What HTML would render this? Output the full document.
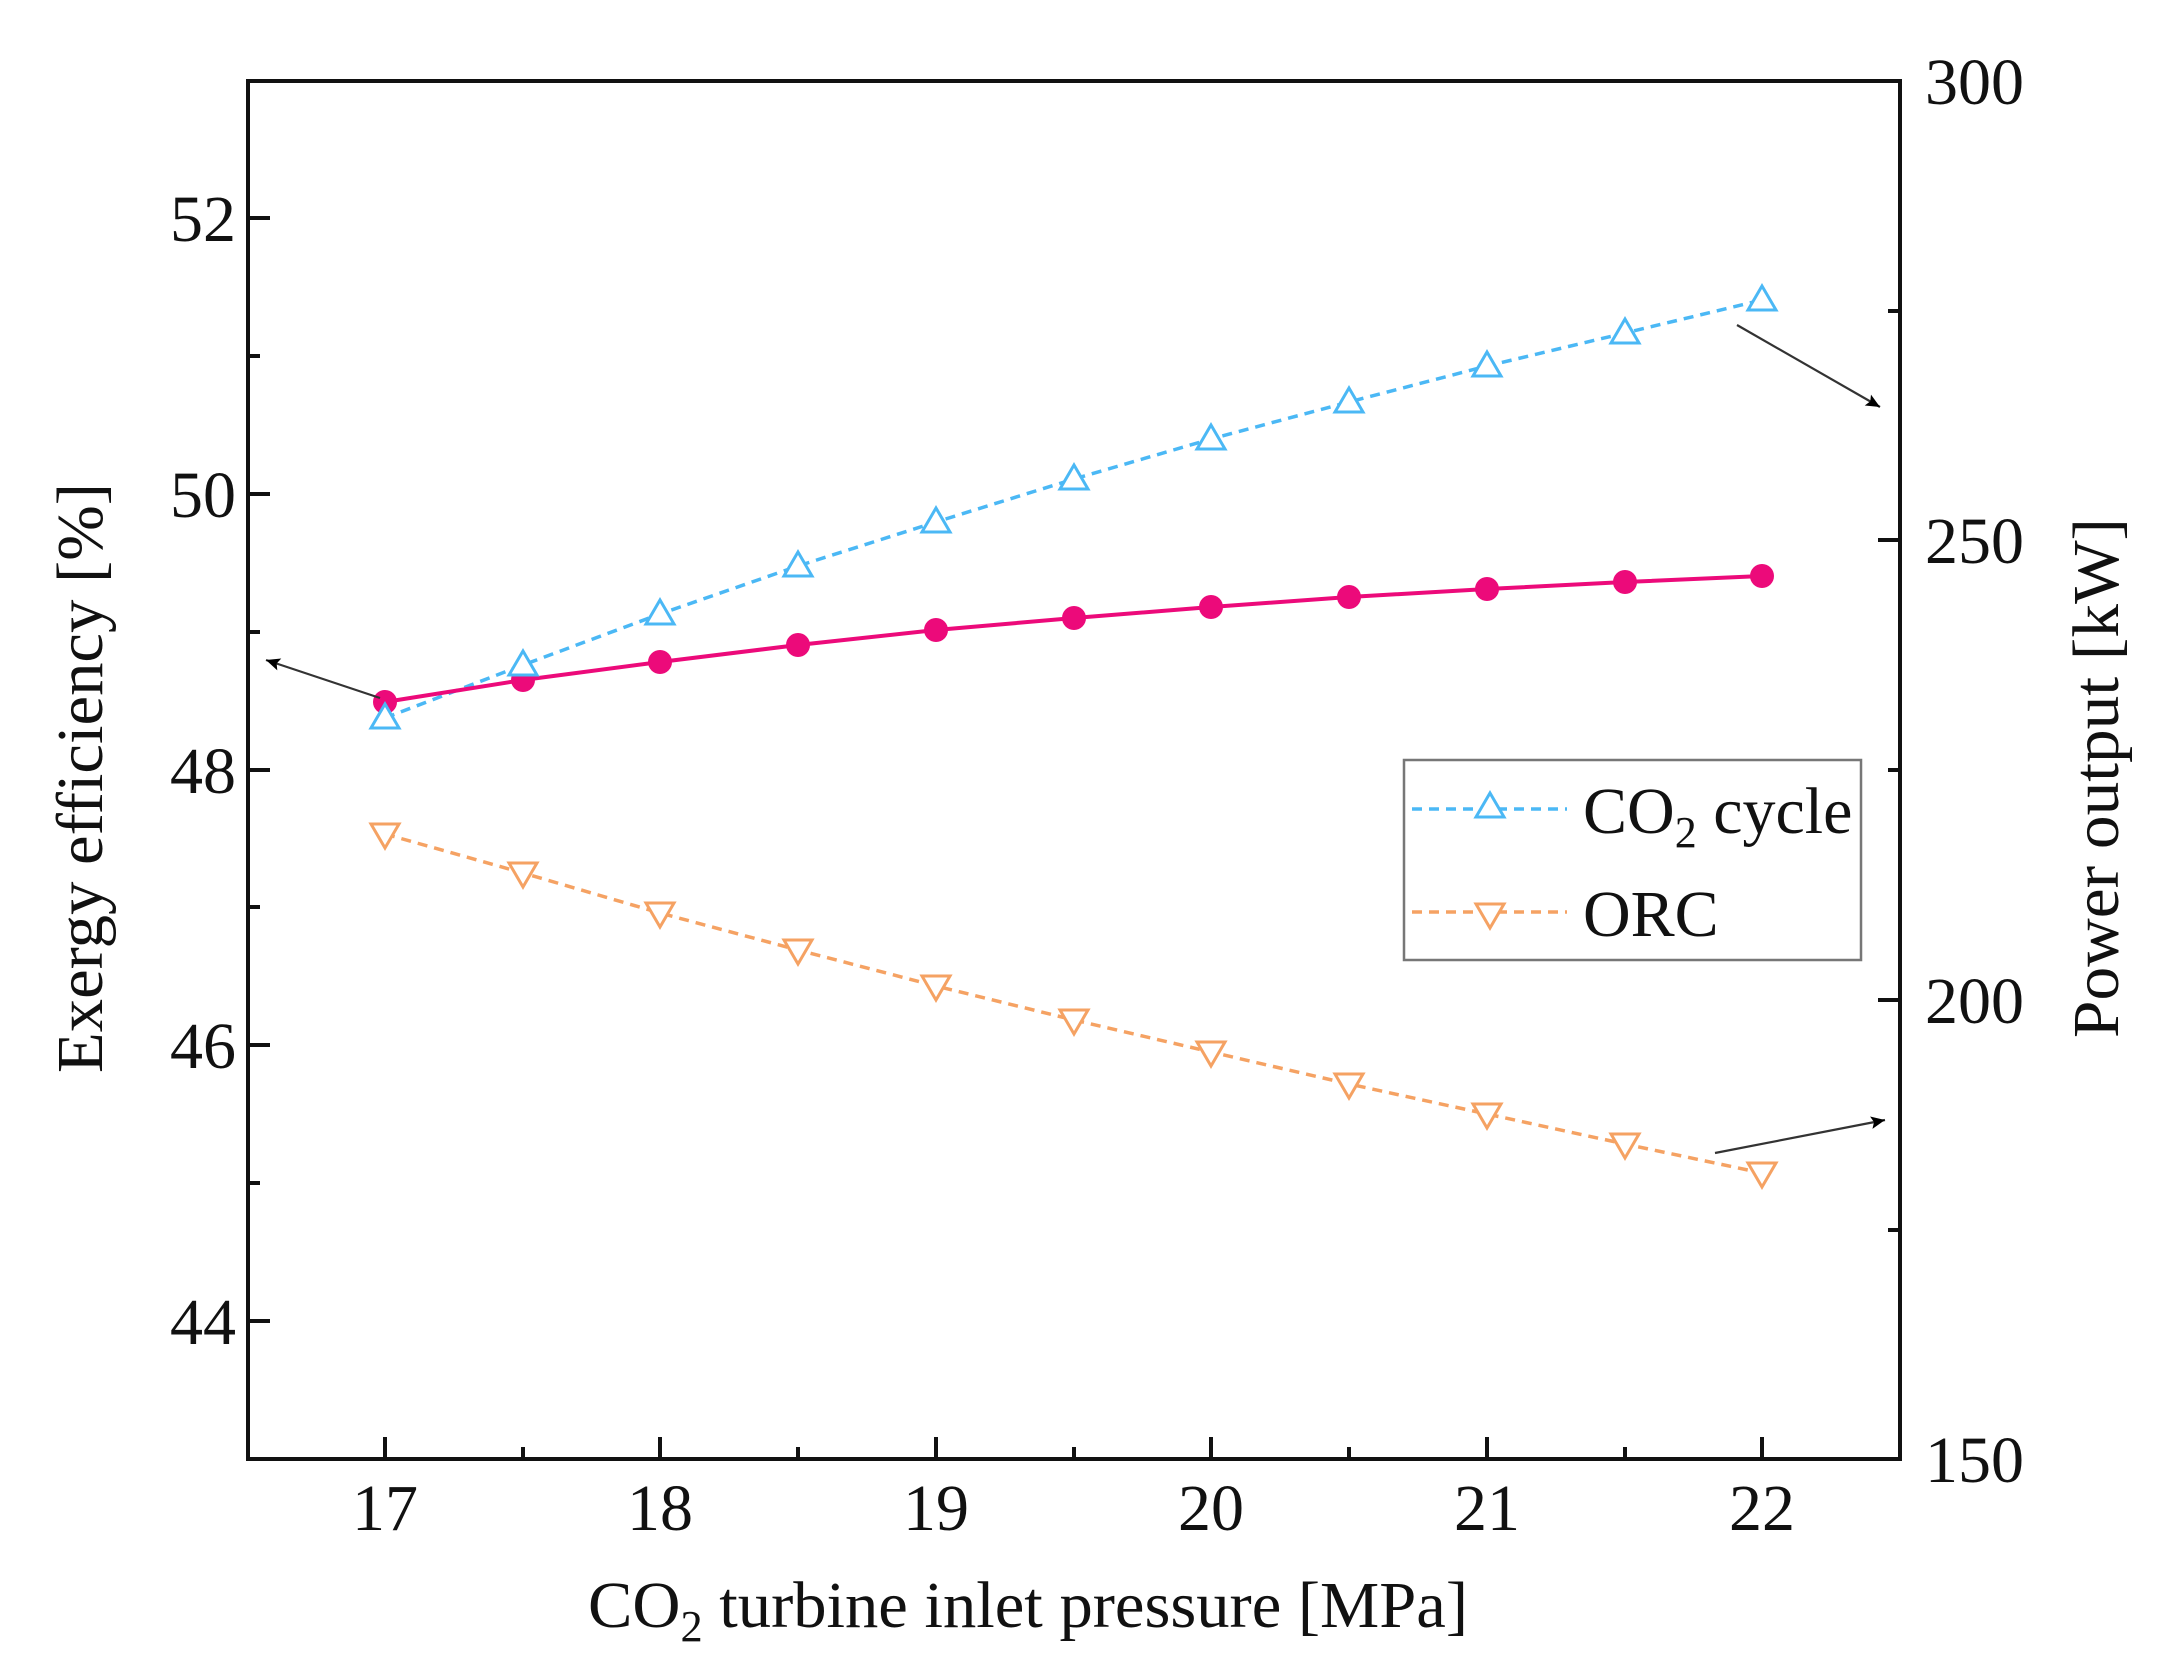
<!DOCTYPE html>
<html><head><meta charset="utf-8"><style>html,body{margin:0;padding:0;background:#fff}svg{display:block}</style></head><body>
<svg width="2177" height="1673" viewBox="0 0 2177 1673" xmlns="http://www.w3.org/2000/svg" font-family="Liberation Serif, serif">
<defs>
<marker id="ah" viewBox="0 0 10 10" refX="10" refY="5" markerWidth="30" markerHeight="14" markerUnits="userSpaceOnUse" orient="auto"><path d="M0,0.5 L10,5 L0,9.5 L2,5 z" fill="#000"/></marker>
<g id="tu"><path d="M0,-14 L14,10 L-14,10 Z" fill="#fff" stroke="#4bb8f5" stroke-width="3"/></g>
<g id="td"><path d="M0,14 L14,-10 L-14,-10 Z" fill="#fff" stroke="#f5a263" stroke-width="3"/></g>
</defs>
<rect x="248" y="81" width="1652" height="1378" fill="none" stroke="#111" stroke-width="4"/>
<g stroke="#111" stroke-width="4">
<line x1="385" y1="1459" x2="385" y2="1437"/><line x1="523" y1="1459" x2="523" y2="1447"/>
<line x1="660" y1="1459" x2="660" y2="1437"/><line x1="798" y1="1459" x2="798" y2="1447"/>
<line x1="936" y1="1459" x2="936" y2="1437"/><line x1="1074" y1="1459" x2="1074" y2="1447"/>
<line x1="1211" y1="1459" x2="1211" y2="1437"/><line x1="1349" y1="1459" x2="1349" y2="1447"/>
<line x1="1487" y1="1459" x2="1487" y2="1437"/><line x1="1625" y1="1459" x2="1625" y2="1447"/>
<line x1="1762" y1="1459" x2="1762" y2="1437"/>
<line x1="248" y1="218" x2="270" y2="218"/><line x1="248" y1="356" x2="260" y2="356"/>
<line x1="248" y1="494" x2="270" y2="494"/><line x1="248" y1="632" x2="260" y2="632"/>
<line x1="248" y1="770" x2="270" y2="770"/><line x1="248" y1="907" x2="260" y2="907"/>
<line x1="248" y1="1045" x2="270" y2="1045"/><line x1="248" y1="1183" x2="260" y2="1183"/>
<line x1="248" y1="1321" x2="270" y2="1321"/>
<line x1="1900" y1="311" x2="1888" y2="311"/><line x1="1900" y1="540" x2="1878" y2="540"/>
<line x1="1900" y1="770" x2="1888" y2="770"/><line x1="1900" y1="1000" x2="1878" y2="1000"/>
<line x1="1900" y1="1230" x2="1888" y2="1230"/>
</g>
<g font-size="66" fill="#111">
<g text-anchor="middle">
<text x="385" y="1530">17</text><text x="660" y="1530">18</text><text x="936" y="1530">19</text>
<text x="1211" y="1530">20</text><text x="1487" y="1530">21</text><text x="1762" y="1530">22</text>
</g>
<g text-anchor="end">
<text x="236" y="241">52</text><text x="236" y="517">50</text><text x="236" y="793">48</text>
<text x="236" y="1068">46</text><text x="236" y="1344">44</text>
</g>
<g text-anchor="start">
<text x="1925" y="104">300</text><text x="1925" y="563">250</text>
<text x="1925" y="1023">200</text><text x="1925" y="1482">150</text>
</g>
<text x="588" y="1627" textLength="880" lengthAdjust="spacingAndGlyphs">CO<tspan font-size="44" dy="14">2</tspan><tspan dy="-14"> turbine inlet pressure [MPa]</tspan></text>
<text transform="translate(102,778) rotate(-90)" text-anchor="middle" textLength="590" lengthAdjust="spacingAndGlyphs">Exergy efficiency [%]</text>
<text transform="translate(2118,778) rotate(-90)" text-anchor="middle" textLength="520" lengthAdjust="spacingAndGlyphs">Power output [kW]</text>
</g>
<polyline fill="none" stroke="#4bb8f5" stroke-width="3.5" stroke-dasharray="10,7" points="385,718 523,665 660,614 798,566 936,522 1074,479 1211,439 1349,402 1487,366 1625,333 1762,300"/>
<polyline fill="none" stroke="#f5a263" stroke-width="3.5" stroke-dasharray="10,7" points="385,834 523,873 660,913 798,950 936,986 1074,1020 1211,1052 1349,1084 1487,1114 1625,1144 1762,1173"/>
<polyline fill="none" stroke="#ec0a7a" stroke-width="4" points="385,702 523,680 660,662 798,645 936,630 1074,618 1211,607 1349,597 1487,589 1625,582 1762,576"/>
<g fill="#ec0a7a">
<circle cx="385" cy="702" r="12"/><circle cx="523" cy="680" r="12"/><circle cx="660" cy="662" r="12"/>
<circle cx="798" cy="645" r="12"/><circle cx="936" cy="630" r="12"/><circle cx="1074" cy="618" r="12"/>
<circle cx="1211" cy="607" r="12"/><circle cx="1349" cy="597" r="12"/><circle cx="1487" cy="589" r="12"/>
<circle cx="1625" cy="582" r="12"/><circle cx="1762" cy="576" r="12"/>
</g>
<use href="#tu" x="385" y="718"/><use href="#tu" x="523" y="665"/><use href="#tu" x="660" y="614"/>
<use href="#tu" x="798" y="566"/><use href="#tu" x="936" y="522"/><use href="#tu" x="1074" y="479"/>
<use href="#tu" x="1211" y="439"/><use href="#tu" x="1349" y="402"/><use href="#tu" x="1487" y="366"/>
<use href="#tu" x="1625" y="333"/><use href="#tu" x="1762" y="300"/>
<use href="#td" x="385" y="834"/><use href="#td" x="523" y="873"/><use href="#td" x="660" y="913"/>
<use href="#td" x="798" y="950"/><use href="#td" x="936" y="986"/><use href="#td" x="1074" y="1020"/>
<use href="#td" x="1211" y="1052"/><use href="#td" x="1349" y="1084"/><use href="#td" x="1487" y="1114"/>
<use href="#td" x="1625" y="1144"/><use href="#td" x="1762" y="1173"/>
<g stroke="#333" stroke-width="2.2" fill="none">
<line x1="380" y1="698" x2="266" y2="660" marker-end="url(#ah)"/>
<line x1="1737" y1="325" x2="1880" y2="407" marker-end="url(#ah)"/>
<line x1="1715" y1="1153" x2="1885" y2="1120" marker-end="url(#ah)"/>
</g>
<rect x="1404" y="760" width="457" height="200" fill="#fff" stroke="#777" stroke-width="2.5"/>
<line x1="1412" y1="809" x2="1567" y2="809" stroke="#4bb8f5" stroke-width="3.5" stroke-dasharray="10,7"/>
<use href="#tu" x="1490" y="807"/>
<line x1="1412" y1="912" x2="1567" y2="912" stroke="#f5a263" stroke-width="3.5" stroke-dasharray="10,7"/>
<use href="#td" x="1490" y="914"/>
<g font-size="66" fill="#111">
<text x="1583" y="833">CO<tspan font-size="44" dy="14">2</tspan><tspan dy="-14"> cycle</tspan></text>
<text x="1583" y="936">ORC</text>
</g>
</svg>
</body></html>
